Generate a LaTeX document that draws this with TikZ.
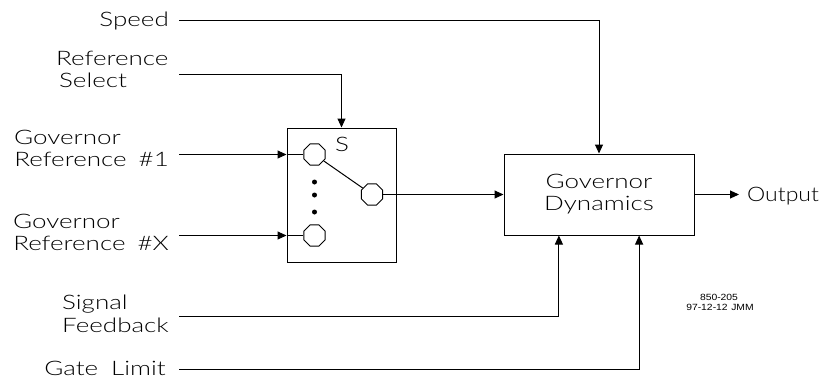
\documentclass[tikz,border=0pt]{standalone}
\usepackage{fontspec}
\setmainfont{Lato}[UprightFont={* Light},FakeStretch=1.3]
\newfontfamily\narrowfont{Lato}[UprightFont={* Light},FakeStretch=1.15]
\newfontfamily\codefont{Liberation Sans}[FakeStretch=1.15]
\usetikzlibrary{arrows.meta,shapes.geometric,calc}

\tikzset{
  wire/.style={line width=1pt},
  arr/.style={wire,-{Triangle[length=9pt,width=8pt]}},
  blk/.style={draw,line width=1pt,inner sep=0pt},
  lbl/.style={inner sep=0pt,font=\fontsize{20}{22}\selectfont},
  contact/.style={draw,line width=1pt,regular polygon,regular polygon sides=8,
    minimum size=23pt,inner sep=0pt},
  blob/.style={fill,circle,inner sep=0pt,minimum size=5pt},
  code/.style={inner sep=0pt,font=\codefont\fontsize{9}{10}\selectfont}
}

\begin{document}
\begin{tikzpicture}[x=1pt,y=-1pt]
\useasboundingbox (0,0) rectangle (824,381);

% selector block and governor dynamics block
\node[blk,minimum width=109pt,minimum height=134pt] (sbox) at (341.5,195) {};
\node[lbl] (slbl) at (342,144) {S};
\node[blk,minimum width=190pt,minimum height=81pt,align=center,
  font=\fontsize{20}{22}\selectfont] (gd) at (599,194.5) {Governor\\Dynamics};

% switch contacts
\node[contact] (c1) at (314.5,154.5) {};
\node[contact] (c2) at (314.5,235.5) {};
\node[contact] (co) at (372,194.5) {};
\node[blob] (d1) at (314.5,182) {};
\node[blob] (d2) at (314.5,195) {};
\node[blob] (d3) at (314.5,212) {};
\draw[wire] (c1) -- (co);

% input labels
\node[lbl,anchor=base east] (spd) at (169,26) {Speed};
\node[lbl,anchor=base west] (rsa) at (56,65) {Reference};
\node[lbl,anchor=base west] (rsb) at (59,87) {Select};
\node[lbl,anchor=base west] (g1a) at (14,144) {Governor};
\node[lbl,anchor=base east] (g1b) at (169,166) {Reference\hspace{0.6em}\#1};
\node[lbl,anchor=base west] (gxa) at (13,228) {Governor};
\node[lbl,anchor=base east] (gxb) at (169,250) {Reference\hspace{0.6em}\#X};
\node[lbl,anchor=base west] (sfa) at (62,309) {Signal};
\node[lbl,anchor=base west] (sfb) at (62,332) {Feedback};
\node[lbl,anchor=base east] (gl) at (166,375) {Gate\hspace{0.65em}Limit};
\node[lbl,anchor=base west,font=\narrowfont\fontsize{20}{22}\selectfont] (out) at (747,201) {Output};

% drawing number
\node[code] (dwg1) at (719,297) {850-205};
\node[code] (dwg2) at (720,307) {97-12-12\hspace{0.4em}JMM};

% free ends of the input wires
\coordinate (spdIn) at (179,20);
\coordinate (rsIn) at (179,74);
\coordinate (g1In) at (179,154.5);
\coordinate (gxIn) at (179,235.5);
\coordinate (sfIn) at (179,316);
\coordinate (glIn) at (179,369);

% taps on the dynamics block
\coordinate (sfTap) at ($(gd.south west)!0.29!(gd.south east)$);
\coordinate (glTap) at ($(gd.south west)!0.71!(gd.south east)$);

% connectors
\draw[arr] (spdIn) -| (gd.north);
\draw[arr] (rsIn) -| (sbox.north);
\draw[arr] (g1In) -- (sbox.west |- c1);
\draw[wire] (sbox.west |- c1) -- (c1);
\draw[arr] (gxIn) -- (sbox.west |- c2);
\draw[wire] (sbox.west |- c2) -- (c2);
\draw[arr] (co) -- (gd.west |- co);
\draw[arr] (sfIn) -| (sfTap);
\draw[arr] (glIn) -| (glTap);
\draw[arr,shorten >=8pt] (gd.east) -- (out.west |- gd.east);
\end{tikzpicture}
\end{document}
